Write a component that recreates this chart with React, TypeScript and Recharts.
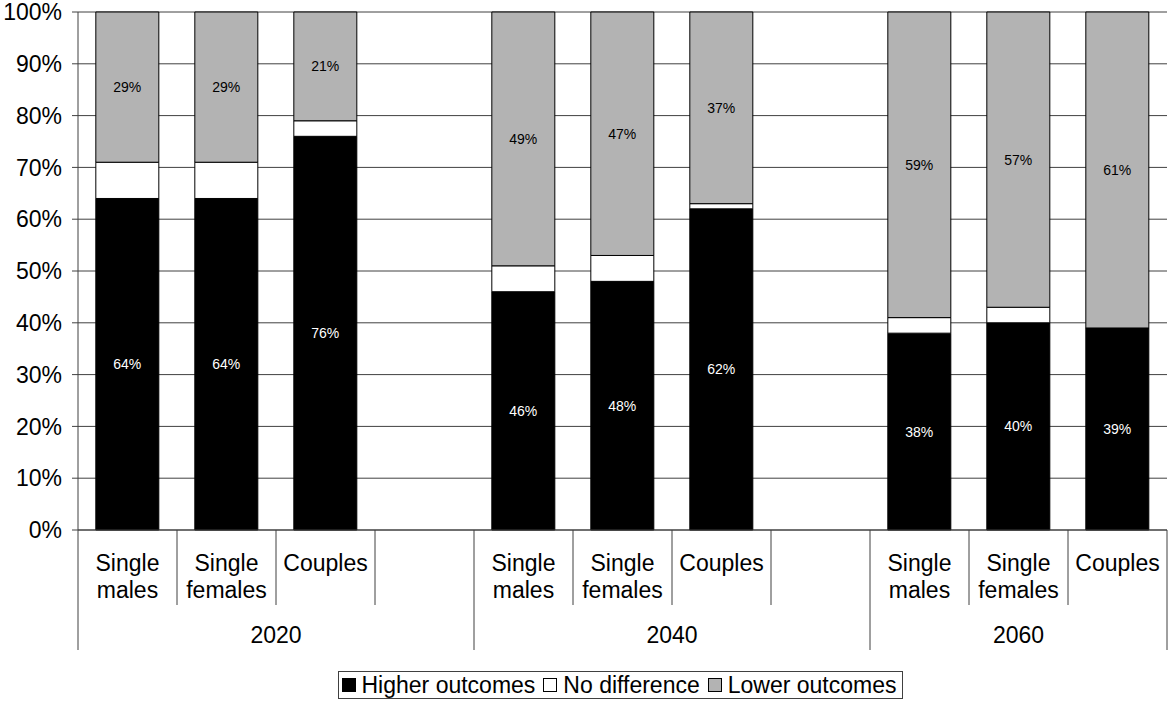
import * as React from "react";
import {
  Bar,
  BarChart,
  CartesianGrid,
  LabelList,
  Legend,
  XAxis,
  YAxis,
} from "recharts";

/* ── data ─────────────────────────────────────────────────────────────────── */

// Blank entries act as spacers between the year groups.
const categories = [
  "Single\nmales",
  "Single\nfemales",
  "Couples",
  "",
  "Single\nmales",
  "Single\nfemales",
  "Couples",
  "",
  "Single\nmales",
  "Single\nfemales",
  "Couples",
];

const higher = [64, 64, 76, null, 46, 48, 62, null, 38, 40, 39];
const noDifference = [7, 7, 3, null, 5, 5, 1, null, 3, 3, 0];
const lower = [29, 29, 21, null, 49, 47, 37, null, 59, 57, 61];

const groups = [
  { label: "2020", start: 0, span: 4 },
  { label: "2040", start: 4, span: 4 },
  { label: "2060", start: 8, span: 3 },
];

const yTicks = [0, 10, 20, 30, 40, 50, 60, 70, 80, 90, 100];

const rows = categories.map((name, i) => ({
  name,
  higher: higher[i],
  noDifference: noDifference[i],
  lower: lower[i],
}));

/* ── styling ──────────────────────────────────────────────────────────────── */

const W = 1172;
const H = 701;
const MARGIN = { top: 12, right: 5, left: 0, bottom: 2 };
const Y_AXIS_W = 78;
const PLOT_W = W - MARGIN.left - MARGIN.right - Y_AXIS_W;
const FONT = "'Liberation Sans', Arial, Helvetica, sans-serif";
const LINE = "#404040";
const GREY = "#b3b3b3";
const BIG = 23;

const pct = (v: unknown) => (v == null ? "" : `${v}%`);

/* ── two-level category axis ─────────────────────────────────────────────── */

function CategoryTick(props: any) {
  const { x, y, payload } = props;
  const idx: number = payload.index;
  const half = payload.offset > 0 ? payload.offset : PLOT_W / categories.length / 2;
  const left = x - half;
  const lines = categories[idx] ? categories[idx].split("\n") : [];
  const group = groups.find((g) => g.start === idx);
  const isLast = idx === categories.length - 1;

  return (
    <g>
      {/* separator on the left edge of the category */}
      <line
        x1={left}
        x2={left}
        y1={y}
        y2={y + (group ? 120 : 75)}
        stroke={LINE}
        strokeWidth={1}
      />
      {isLast && (
        <line x1={x + half} x2={x + half} y1={y} y2={y + 120} stroke={LINE} strokeWidth={1} />
      )}
      {lines.map((s, i) => (
        <text
          key={i}
          x={x}
          y={y + 41 + i * 27}
          textAnchor="middle"
          fontSize={BIG}
          fontFamily={FONT}
          fill="#000"
        >
          {s}
        </text>
      ))}
      {group && (
        <text
          x={left + group.span * half}
          y={y + 113}
          textAnchor="middle"
          fontSize={BIG}
          fontFamily={FONT}
          fill="#000"
        >
          {group.label}
        </text>
      )}
    </g>
  );
}

/* ── boxed legend, centred under the plot area ───────────────────────────── */

const legendItems = [
  { label: "Higher outcomes", fill: "#000" },
  { label: "No difference", fill: "#fff" },
  { label: "Lower outcomes", fill: GREY },
];

function BoxLegend() {
  return (
    <div
      style={{
        display: "flex",
        justifyContent: "center",
        paddingLeft: Y_AXIS_W,
        paddingRight: MARGIN.right,
      }}
    >
      <div
        style={{
          display: "flex",
          alignItems: "center",
          border: `1px solid ${LINE}`,
          height: 26,
          padding: "0 5px 0 3px",
          fontFamily: FONT,
          fontSize: BIG,
          color: "#000",
          whiteSpace: "nowrap",
        }}
      >
        {legendItems.map((it, i) => (
          <span
            key={it.label}
            style={{
              display: "flex",
              alignItems: "center",
              marginRight: i < legendItems.length - 1 ? 8 : 0,
            }}
          >
            <span
              style={{
                display: "inline-block",
                width: 12,
                height: 12,
                background: it.fill,
                border: "1px solid #000",
                marginRight: 6,
              }}
            />
            {it.label}
          </span>
        ))}
      </div>
    </div>
  );
}

/* ── chart ───────────────────────────────────────────────────────────────── */

export default function App() {
  return (
    <div style={{ position: "absolute", left: 0, top: 0, width: W, height: H, background: "#fff" }}>
      <BarChart width={W} height={H} data={rows} margin={MARGIN} barCategoryGap="18%">
        <CartesianGrid vertical={false} stroke={LINE} strokeOpacity={1} />
        <XAxis
          dataKey="name"
          interval={0}
          height={141}
          tickSize={0}
          tickMargin={0}
          tickLine={false}
          axisLine={{ stroke: LINE }}
          tick={<CategoryTick />}
        />
        <YAxis
          domain={[0, 100]}
          ticks={yTicks}
          interval={0}
          width={Y_AXIS_W}
          tickFormatter={(v) => `${v}%`}
          tick={{ fill: "#000", fontSize: BIG, fontFamily: FONT }}
          tickSize={6}
          tickMargin={10}
          tickLine={{ stroke: LINE }}
          axisLine={{ stroke: LINE }}
        />
        <YAxis
          yAxisId="edge"
          orientation="right"
          domain={[0, 100]}
          width={0}
          tick={false}
          tickLine={false}
          axisLine={{ stroke: LINE }}
        />
        <Legend verticalAlign="bottom" height={28} content={() => <BoxLegend />} />
        <Bar
          dataKey="higher"
          name="Higher outcomes"
          stackId="s"
          fill="#000"
          stroke="#000"
          strokeWidth={1}
          isAnimationActive={false}
        >
          <LabelList
            dataKey="higher"
            position="center"
            formatter={pct}
            fill="#fff"
            fontSize={14}
            fontFamily={FONT}
          />
        </Bar>
        <Bar
          dataKey="noDifference"
          name="No difference"
          stackId="s"
          fill="#fff"
          stroke="#000"
          strokeWidth={1}
          isAnimationActive={false}
        />
        <Bar
          dataKey="lower"
          name="Lower outcomes"
          stackId="s"
          fill={GREY}
          stroke="#000"
          strokeWidth={1}
          isAnimationActive={false}
        >
          <LabelList
            dataKey="lower"
            position="center"
            formatter={pct}
            fill="#000"
            fontSize={14}
            fontFamily={FONT}
          />
        </Bar>
      </BarChart>
    </div>
  );
}
